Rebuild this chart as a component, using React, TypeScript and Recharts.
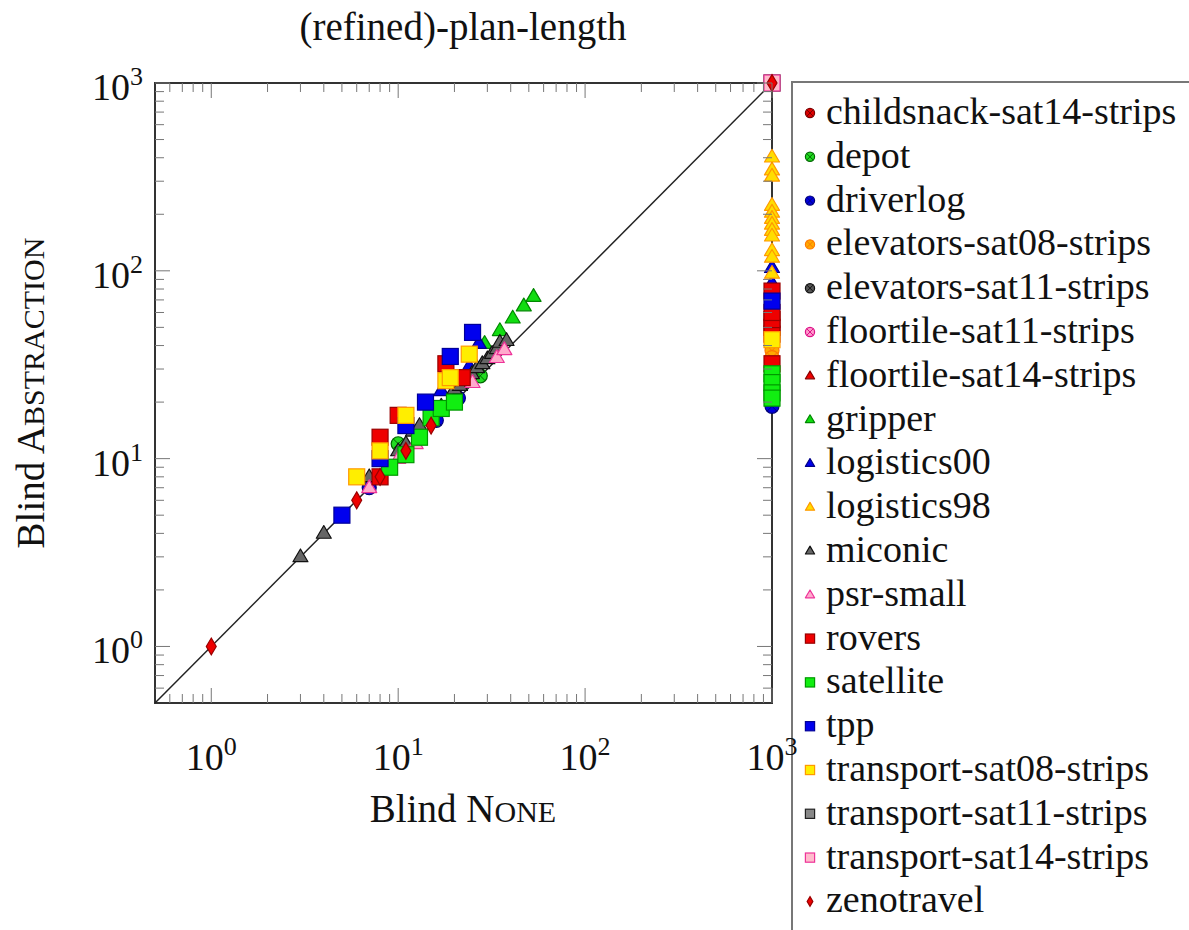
import React from 'react'
import { ScatterChart, Scatter, XAxis, YAxis, ReferenceLine, ReferenceArea } from 'recharts'

// log-log scatter: blind "none" vs blind "abstraction" plan length per domain

const FONT = 'Liberation Serif'
const WIDTH = 1189
const HEIGHT = 930
const PLOT_W = 617
const PLOT_H = 620

const DOMAIN: [number, number] = [0.5, 1000]
const axisTicks = [
  0.6, 0.7, 0.8, 0.9, 1, 2, 3, 4, 5, 6, 7, 8, 9, 10, 20, 30, 40, 50, 60, 70, 80, 90, 100, 200, 300, 400, 500,
  600, 700, 800, 900, 1000,
]
const majorTicks = [1, 10, 100, 1000]
const tickExponents = ['0', '1', '2', '3']

// [Blind None, Blind Abstraction]
const childsnack = [[1000, 1000]]
const depot = [[10, 12], [27.5, 27.6]]
const driverlog = [[7, 7], [16, 16], [21, 21], [1000, 19]]
const elevators08 = [[1000, 37.6], [1000, 34.5]]
const elevators11 = [[1000, 1000]]
const floortile11 = [[1000, 1000]]
const floortile14 = [[1000, 1000]]
const gripper = [[53, 73], [47, 65], [41, 56], [35, 48], [29, 41]]
const logistics00 = [[27, 41], [24, 31], [17, 23], [1000, 104], [1000, 86]]
const logistics98 = [
  [1000, 403], [1000, 344], [1000, 319], [1000, 223], [1000, 205], [1000, 190],
  [1000, 177], [1000, 164], [1000, 153], [1000, 128], [1000, 118], [1000, 97],
]
const miconic = [
  [3, 3], [4, 4], [7, 8], [10, 11], [11, 12], [12, 14], [13, 15], [15, 17], [17, 19], [20, 23.5],
  [21.4, 24.5], [23, 26.6], [24.8, 28.3], [26.4, 30.5], [28.2, 32], [30, 34], [31.8, 36.3],
  [33.8, 38.5], [35, 41.6], [38, 42.5],
]
const psrSmall = [[7, 7], [10, 10], [12.4, 12], [25, 25.4], [33.7, 34.5], [37, 38]]
const rovers = [
  [8, 8], [8, 13], [10, 17], [18, 32], [22, 27],
  [1000, 32], [1000, 46], [1000, 50], [1000, 55], [1000, 60], [1000, 78],
]
const satellite = [
  [9, 9], [11, 10.5], [13, 13], [15, 16.5], [17, 18.5], [20, 20],
  [1000, 28.3], [1000, 25.4], [1000, 22.4], [1000, 21],
]
const tpp = [[5, 5], [8, 10], [11, 15], [14, 20], [19, 35], [25, 47], [1000, 69]]
const transport08 = [[6, 8], [8, 11], [11, 17], [18, 26], [19, 27], [24, 36], [1000, 43]]
const transport11 = [[1000, 1000]]
const transport14 = [[1000, 1000]]
const zenotravel = [[1, 1], [6, 6], [8, 8], [11, 11], [15, 15], [1000, 1000]]

type Kind = 'circle' | 'triangle' | 'square' | 'diamond'

const series: { name: string; kind: Kind; fill: string; stroke: string; points: number[][] }[] = [
  { name: 'childsnack-sat14-strips', kind: 'circle', fill: '#dd0000', stroke: '#7a0000', points: childsnack },
  { name: 'depot', kind: 'circle', fill: '#22dd22', stroke: '#006600', points: depot },
  { name: 'driverlog', kind: 'circle', fill: '#0000dd', stroke: '#000077', points: driverlog },
  { name: 'elevators-sat08-strips', kind: 'circle', fill: '#ffaa00', stroke: '#ff7700', points: elevators08 },
  { name: 'elevators-sat11-strips', kind: 'circle', fill: '#555555', stroke: '#111111', points: elevators11 },
  { name: 'floortile-sat11-strips', kind: 'circle', fill: '#ff99cc', stroke: '#dd1188', points: floortile11 },
  { name: 'floortile-sat14-strips', kind: 'triangle', fill: '#ee0000', stroke: '#880000', points: floortile14 },
  { name: 'gripper', kind: 'triangle', fill: '#11dd11', stroke: '#008800', points: gripper },
  { name: 'logistics00', kind: 'triangle', fill: '#0000ee', stroke: '#000088', points: logistics00 },
  { name: 'logistics98', kind: 'triangle', fill: '#ffdd00', stroke: '#ff9900', points: logistics98 },
  { name: 'miconic', kind: 'triangle', fill: '#666666', stroke: '#111111', points: miconic },
  { name: 'psr-small', kind: 'triangle', fill: '#ffaacc', stroke: '#ee3399', points: psrSmall },
  { name: 'rovers', kind: 'square', fill: '#ee0000', stroke: '#990000', points: rovers },
  { name: 'satellite', kind: 'square', fill: '#11ee11', stroke: '#009900', points: satellite },
  { name: 'tpp', kind: 'square', fill: '#0000ee', stroke: '#000099', points: tpp },
  { name: 'transport-sat08-strips', kind: 'square', fill: '#ffee00', stroke: '#ff9900', points: transport08 },
  { name: 'transport-sat11-strips', kind: 'square', fill: '#888888', stroke: '#222222', points: transport11 },
  { name: 'transport-sat14-strips', kind: 'square', fill: '#ffbbcc', stroke: '#ee3399', points: transport14 },
  { name: 'zenotravel', kind: 'diamond', fill: '#ee0000', stroke: '#990000', points: zenotravel },
]

function markerShape(kind: Kind, fill: string, stroke: string, cx: number, cy: number, s: number) {
  if (kind === 'circle') {
    const d = s * 0.7
    return (
      <g>
        <circle cx={cx} cy={cy} r={s} fill={fill} stroke={stroke} strokeWidth={1.2} />
        <path
          d={`M${cx - d},${cy - d}L${cx + d},${cy + d}M${cx - d},${cy + d}L${cx + d},${cy - d}`}
          stroke={stroke}
          strokeWidth={1}
        />
      </g>
    )
  }
  if (kind === 'triangle') {
    const pts = `${cx},${cy - s * 1.05} ${cx - s},${cy + s * 0.65} ${cx + s},${cy + s * 0.65}`
    return <polygon points={pts} fill={fill} stroke={stroke} strokeWidth={1.2} strokeLinejoin="round" />
  }
  if (kind === 'square') {
    return <rect x={cx - s} y={cy - s} width={s * 2} height={s * 2} fill={fill} stroke={stroke} strokeWidth={1.2} />
  }
  const pts = `${cx},${cy - s * 1.05} ${cx + s * 0.62},${cy} ${cx},${cy + s * 1.05} ${cx - s * 0.62},${cy}`
  return <polygon points={pts} fill={fill} stroke={stroke} strokeWidth={1.2} />
}

const plotSize: Record<Kind, number> = { circle: 7, triangle: 7.5, square: 8, diamond: 8 }

const isMajor = (v: number) => majorTicks.includes(v)

const XTick = (props: any) => {
  const { x, y, payload } = props
  const v = payload.value
  const len = isMajor(v) ? 15 : 9
  const idx = majorTicks.indexOf(v)
  return (
    <g>
      <line x1={x} x2={x} y1={y} y2={y - len} stroke="#777" strokeWidth={1} />
      <line x1={x} x2={x} y1={y - PLOT_H} y2={y - PLOT_H + len} stroke="#777" strokeWidth={1} />
      {idx >= 0 && (
        <text x={x} y={y + 67} textAnchor="middle" fontFamily={FONT} fontSize={38} fill="#111">
          10
          <tspan dy={-15} fontSize={26}>
            {tickExponents[idx]}
          </tspan>
        </text>
      )}
    </g>
  )
}

const YTick = (props: any) => {
  const { x, y, payload } = props
  const v = payload.value
  const len = isMajor(v) ? 15 : 9
  const idx = majorTicks.indexOf(v)
  return (
    <g>
      <line x1={x} x2={x + len} y1={y} y2={y} stroke="#777" strokeWidth={1} />
      <line x1={x + PLOT_W} x2={x + PLOT_W - len} y1={y} y2={y} stroke="#777" strokeWidth={1} />
      {idx >= 0 && (
        <text x={x - 12} y={y + 17} textAnchor="end" fontFamily={FONT} fontSize={38} fill="#111">
          10
          <tspan dy={-15} fontSize={26}>
            {tickExponents[idx]}
          </tspan>
        </text>
      )}
    </g>
  )
}

const LEG_X = 792
const LEG_Y = 82
const LEG_ROW = 43.8

export default function App() {
  return (
    <div
      style={{ position: 'absolute', left: 0, top: 0, width: WIDTH, height: HEIGHT, overflow: 'hidden', background: '#fff' }}
    >
      <ScatterChart width={WIDTH} height={HEIGHT} margin={{ top: 83, right: 417, bottom: 187, left: 115 }}>
        <XAxis
          type="number"
          dataKey="x"
          scale="log"
          domain={DOMAIN}
          ticks={axisTicks}
          interval={0}
          tick={<XTick />}
          tickLine={false}
          axisLine={false}
          tickSize={0}
          tickMargin={0}
          height={40}
        />
        <YAxis
          type="number"
          dataKey="y"
          scale="log"
          domain={DOMAIN}
          ticks={axisTicks}
          interval={0}
          tick={<YTick />}
          tickLine={false}
          axisLine={false}
          tickSize={0}
          tickMargin={0}
          width={40}
        />
        <ReferenceArea x1={0.5} x2={1000} y1={0.5} y2={1000} fill="none" stroke="#333" strokeWidth={2} fillOpacity={0} />
        <ReferenceLine
          segment={[
            { x: 0.5, y: 0.5 },
            { x: 1000, y: 1000 },
          ]}
          stroke="#222"
          strokeWidth={1.5}
        />
        {series.map((s) => (
          <Scatter
            key={s.name}
            name={s.name}
            data={s.points.map(([x, y]) => ({ x, y }))}
            isAnimationActive={false}
            shape={(p: any) => markerShape(s.kind, s.fill, s.stroke, p.cx, p.cy, plotSize[s.kind])}
          />
        ))}
        <text x={463} y={40} textAnchor="middle" fontFamily={FONT} fontSize={39} fill="#111">
          (refined)-plan-length
        </text>
        <text x={463} y={822} textAnchor="middle" fontFamily={FONT} fontSize={39} fill="#111">
          Blind N<tspan fontSize={30}>ONE</tspan>
        </text>
        <text
          x={44}
          y={393}
          textAnchor="middle"
          transform="rotate(-90 44 393)"
          fontFamily={FONT}
          fontSize={39}
          fill="#111"
        >
          Blind A<tspan fontSize={30}>BSTRACTION</tspan>
        </text>
        <g>
          <rect x={LEG_X} y={LEG_Y} width={440} height={880} fill="#fff" stroke="#777" strokeWidth={2} />
          {series.map((s, i) => {
            const cy = LEG_Y + 31 + i * LEG_ROW
            return (
              <g key={s.name}>
                {markerShape(s.kind, s.fill, s.stroke, 810, cy, 4.6)}
                <text x={826} y={cy + 11} fontFamily={FONT} fontSize={38} fill="#111">
                  {s.name}
                </text>
              </g>
            )
          })}
        </g>
      </ScatterChart>
    </div>
  )
}
